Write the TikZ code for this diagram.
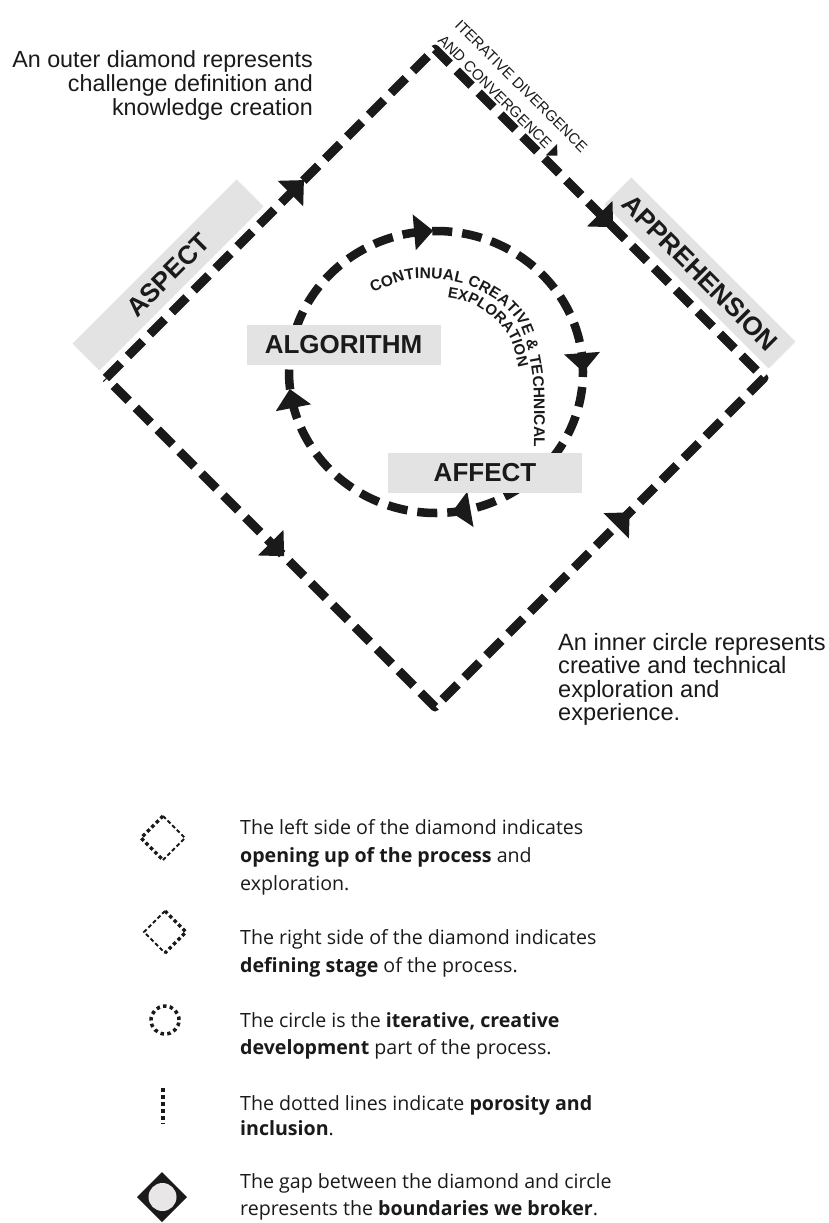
\documentclass[tikz,border=0pt]{standalone}
\usepackage{fontspec}
\setmainfont{Liberation Sans}
\newfontfamily\legendfont{Open Sans}
\usetikzlibrary{calc,decorations.text}
\definecolor{ink}{HTML}{1A1A1A}
\definecolor{band}{HTML}{E3E3E3}
\definecolor{disc}{HTML}{E8E6E6}
\begin{document}
\begin{tikzpicture}[x=1pt,y=1pt,
  side/.style={draw=ink, line width=9pt, dash pattern=on 21pt off 10pt, line join=round},
  loopline/.style={draw=ink, line width=8.5pt, dash pattern=on 20pt off 10pt},
  bandlabel/.style={fill=band, text=ink, font=\fontsize{26}{26}\selectfont\bfseries, minimum width=232pt, minimum height=38pt, inner sep=0pt},
  boxlabel/.style={fill=band, text=ink, font=\fontsize{26}{26}\selectfont\bfseries, minimum width=194pt, minimum height=40pt, inner sep=0pt},
  noteE/.style={anchor=base east, inner sep=0pt, text=ink, font=\fontsize{23.3}{24}\selectfont},
  noteW/.style={anchor=base west, inner sep=0pt, text=ink, font=\fontsize{23.6}{24}\selectfont},
  smallcap/.style={anchor=base west, inner sep=0pt, text=ink, rotate=-45, font=\fontsize{15}{15}\selectfont},
  legend/.style={anchor=base west, inner sep=0pt, text=ink, font=\legendfont\fontsize{19.6}{27}\selectfont},
  dotline/.style={draw=ink, line width=3.5pt, dash pattern=on 3.5pt off 2.8pt},
  dashline/.style={draw=ink, line width=1.8pt, dash pattern=on 4pt off 2.5pt},
  ahead/.pic={\fill[ink] (10,0) -- (-9,18) -- (-9,-18) -- cycle;},
]
\useasboundingbox (0,0) rectangle (829,-1223);
\fill[white] (0,0) rectangle (829,-1223);

% outer diamond
\coordinate (T) at (435,-49);
\coordinate (L) at (106,-378);
\coordinate (R) at (764,-378);
\coordinate (B) at (435,-707);

\node[bandlabel, rotate=45] (aspect) at (168,-275) {ASPECT};
\node[bandlabel, rotate=-45] (appr) at (700,-273) {APPREHENSION};

\draw[side] (L) -- (T) -- (R) -- (B) -- cycle;
\pic[rotate=45] at ($(L)!0.58!(T)$) {ahead};
\pic[rotate=-45] at ($(T)!0.52!(R)$) {ahead};
\pic[rotate=-45] at ($(L)!0.52!(B)$) {ahead};
\pic[rotate=45] at ($(B)!0.57!(R)$) {ahead};

% iterative text
\node[smallcap] (iter1) at (454,-26) {ITERATIVE DIVERGENCE};
\node[smallcap] (iter2) at (437,-41) {AND CONVERGENCE};
\pic[rotate=-45, scale=0.45] at ($(iter2.base east)+(-45:8)+(45:4)$) {ahead};

% inner loop
\coordinate (C) at (436,-372);
\draw[loopline] (C) ellipse [x radius=147, y radius=141];
\pic[rotate=5] at ($(C)+(95:147 and 141)$) {ahead};
\pic[rotate=-86] at ($(C)+(4:147 and 141)$) {ahead};
\pic[rotate=-170] at ($(C)+(-80:147 and 141)$) {ahead};
\pic[rotate=101] at ($(C)+(191:147 and 141)$) {ahead};

\node[boxlabel] (algo) at (343.5,-345) {ALGORITHM};
\node[boxlabel] (affect) at (485,-473) {AFFECT};

\path[decorate, decoration={text along path, text align=fit to path,
  text={|\fontsize{15.5}{15.5}\selectfont\bfseries\color{ink}|CONTINUAL CREATIVE {\&} TECHNICAL}}]
  plot[smooth] coordinates {(373,-293) (412,-279) (461,-283) (500,-303) (522,-330) (533,-380) (534,-447)};
\path[decorate, decoration={text along path, text align=center,
  text={|\fontsize{15}{15}\selectfont\bfseries\color{ink}|EXPLORATION}}]
  plot[smooth] coordinates {(420,-295) (443,-297) (470,-303) (493,-318) (510,-338) (519,-370) (521,-395)};

% notes
\node[noteE] (o1) at (313,-67.5) {An outer diamond represents};
\node[noteE] (o2) at (313,-91.5) {challenge definition and};
\node[noteE] (o3) at (313,-115.5) {knowledge creation};

\node[noteW] (i1) at (558,-650) {An inner circle represents};
\node[noteW] (i2) at (558,-673.5) {creative and technical};
\node[noteW] (i3) at (558,-697) {exploration and};
\node[noteW] (i4) at (558,-720.5) {experience.};

% legend icons
\draw[dotline] (163,-816) -- (141,-838) -- (163,-860);
\draw[dashline] (163,-816) -- (185,-838) -- (163,-860);
\draw[dashline] (165,-911) -- (144,-932) -- (165,-953);
\draw[dotline] (165,-911) -- (186,-932) -- (165,-953);
\draw[dotline, dash pattern=on 3.5pt off 3.3pt] (165,-1020) circle [radius=14];
\draw[dotline, line width=3.6pt, dash pattern=on 3.6pt off 3.4pt] (163,-1088) -- (163,-1124);
\fill[ink] (162,-1172) -- (137,-1197) -- (162,-1222) -- (187,-1197) -- cycle;
\fill[disc] (162.5,-1197) circle [radius=14];

% legend text
\node[legend] (a1) at (240,-834) {The left side of the diamond indicates};
\node[legend] (a2) at (240,-862) {\textbf{opening up of the process} and};
\node[legend] (a3) at (240,-890) {exploration.};
\node[legend] (b1) at (240,-944) {The right side of the diamond indicates};
\node[legend] (b2) at (240,-972) {\textbf{defining stage} of the process.};
\node[legend] (c1) at (240,-1027) {The circle is the \textbf{iterative, creative}};
\node[legend] (c2) at (240,-1054) {\textbf{development} part of the process.};
\node[legend] (d1) at (240,-1110) {The dotted lines indicate \textbf{porosity and}};
\node[legend] (d2) at (240,-1135) {\textbf{inclusion}.};
\node[legend] (e1) at (240,-1188) {The gap between the diamond and circle};
\node[legend] (e2) at (240,-1215) {represents the \textbf{boundaries we broker}.};
\end{tikzpicture}
\end{document}
